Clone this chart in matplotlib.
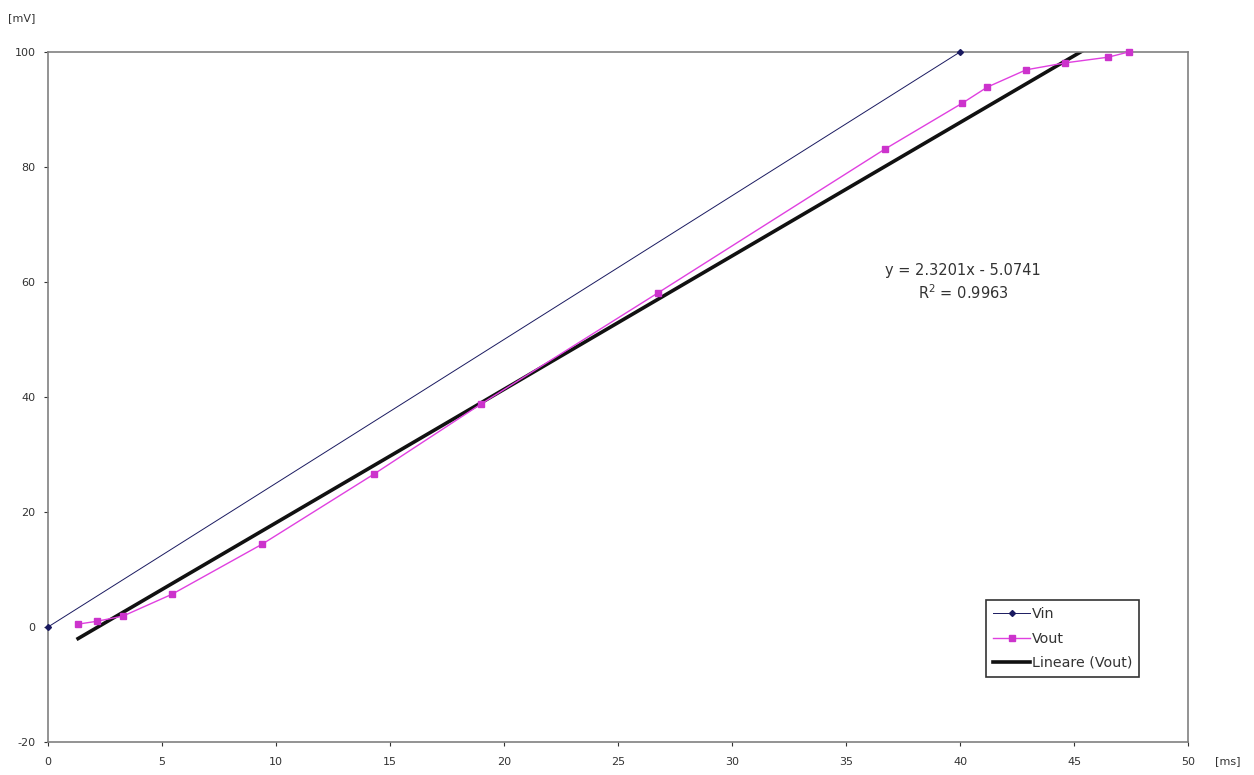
import numpy as np
import matplotlib.pyplot as plt

plt.rcParams['font.family'] = ['DejaVu Sans']
plt.rcParams['axes.unicode_minus'] = False

# Daten
vin_t = [0, 40]
vin_v = [0, 100]

vout_t = [1.32, 2.15, 3.29, 5.44, 9.39, 14.3, 19.0, 26.75, 36.7, 40.1, 41.2, 42.9, 44.6, 46.5, 47.4]
vout_v = [0.5, 1.0, 1.9, 5.7, 14.4, 26.6, 38.8, 58.1, 83.1, 91.1, 93.9, 96.9, 98.1, 99.1, 100.0]

# Trendlinie (Excel)
slope = 2.3201
intercept = -5.0741
r2 = 0.9963

x_ticks = [0, 5, 10, 15, 20, 25, 30, 35, 40, 45, 50]
y_ticks = [-20, 0, 20, 40, 60, 80, 100]

fig = plt.figure(figsize=(12.54, 7.75), dpi=100)
ax = fig.add_axes([48/1254, 1 - 742/775, (1188 - 48)/1254, (742 - 52)/775])

ax.plot(vin_t, vin_v, color='#1a1a60', lw=0.7, marker='D', ms=3,
        label='Vin', clip_on=False, zorder=3)
ax.plot(vout_t, vout_v, color='#E040E0', lw=1.0, marker='s', ms=5,
        mfc='#CC33CC', mec='#CC33CC', label='Vout', clip_on=False, zorder=3)

trend_x = np.array([min(vout_t), max(vout_t)])
ax.plot(trend_x, slope * trend_x + intercept, color='#111111', lw=2.6,
        label='Lineare (Vout)', zorder=2)

ax.set_xlim(0, 50)
ax.set_ylim(-20, 100)
ax.set_xticks(x_ticks)
ax.set_yticks(y_ticks)
ax.tick_params(labelsize=8, colors='#333333', length=3, width=0.8,
               direction='out')
ax.tick_params(axis='x', pad=8)
ax.tick_params(axis='y', pad=6)
for s in ax.spines.values():
    s.set_color('#808080')
    s.set_linewidth(1.2)

fig.text(22/1254, 1 - 18/775, '[mV]', fontsize=8, ha='center', va='center', color='#333333')
fig.text(1228/1254, 1 - 761/775, '[ms]', fontsize=8, ha='center', va='center', color='#333333')

fig.text(963/1254, 1 - 271/775, 'y = %.4fx - %.4f' % (slope, -intercept),
         fontsize=10.5, ha='center', va='center', color='#333333')
fig.text(963/1254, 1 - 293/775, '$\\mathregular{R^2}$ = %.4f' % r2,
         fontsize=10.5, ha='center', va='center', color='#333333')

leg = ax.legend(loc='lower left', bbox_to_anchor=(986/1254, 1 - 677/775),
                bbox_transform=fig.transFigure, borderaxespad=0,
                fancybox=False, framealpha=1, edgecolor='#333333',
                fontsize=10.3, handlelength=2.6, handletextpad=0.1,
                labelspacing=0.72, borderpad=0.5, labelcolor='#333333')
leg.get_frame().set_linewidth(1.2)

fig.savefig('out.png', dpi=100)
